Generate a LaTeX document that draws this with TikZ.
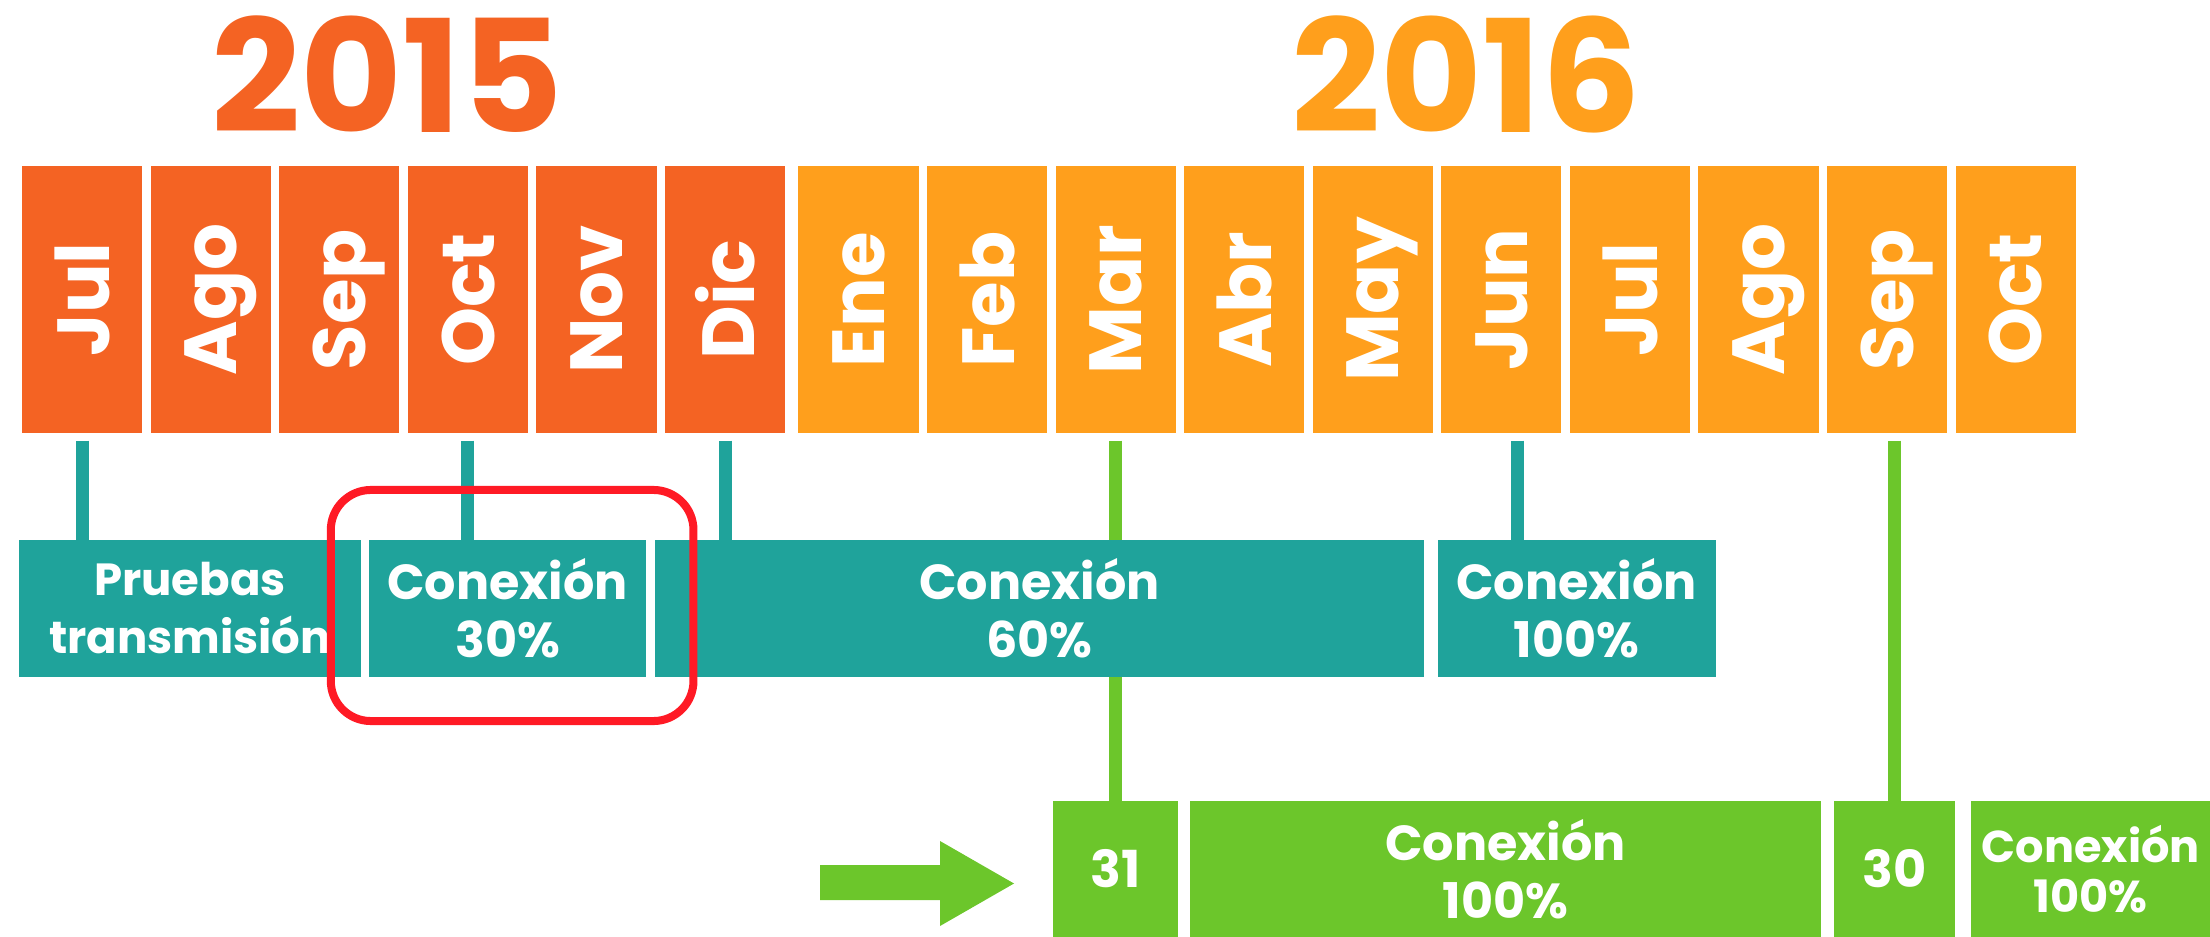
\documentclass[tikz,border=0pt]{standalone}
\usepackage{fontspec}
\setmainfont{Poppins}
\usepackage{graphicx}
\usetikzlibrary{positioning}
\definecolor{orange15}{HTML}{F46323}
\definecolor{orange16}{HTML}{FF9F1C}
\definecolor{teal1}{HTML}{1FA39B}
\definecolor{green1}{HTML}{6CC62B}
\definecolor{red1}{HTML}{FF1A25}
\pgfdeclarelayer{background}
\pgfsetlayers{background,main}
\newcommand{\vmonth}[1]{\rotatebox{90}{\raisebox{0pt}[\height][0pt]{#1}}}
\tikzset{
  month box/.style={
    fill=#1,
    minimum width=1.2cm,
    minimum height=2.66cm,
    inner sep=0pt,
    outer sep=0pt,
    text=white,
    font=\fontsize{21}{21}\selectfont\bfseries,
  },
  phase box/.style={
    fill=teal1,
    minimum width={#1},
    minimum height=1.37cm,
    inner sep=0pt,
    outer sep=0pt,
    text=white,
    align=center,
    font=\fontsize{14}{16.5}\selectfont\bfseries,
  },
  done box/.style={
    fill=green1,
    minimum width={#1},
    minimum height=1.36cm,
    inner sep=0pt,
    outer sep=0pt,
    text=white,
    align=center,
    font=\fontsize{14}{16.5}\selectfont\bfseries,
  },
  year label/.style={
    text=#1,
    inner sep=0pt,
    font=\fontsize{44.5}{44.5}\selectfont\bfseries,
  },
  link/.style={
    draw=#1,
    line width=0.13cm,
    shorten <=0.08cm,
  },
  highlight/.style={
    draw=red1,
    line width=0.08cm,
    rounded corners=0.4cm,
  }
}

\begin{document}
\begin{tikzpicture}[x=0.01cm, y=-0.01cm, node distance=0.085cm]
    \useasboundingbox (0,0) rectangle (2210,937);

    % years
    \node [year label=orange15] (y2015) at (387.5,74) {2015};
    \node [year label=orange16] (y2016) at (1466,74) {2016};

    % months 2015
    \node [month box=orange15] (jul15) at (82.2,299.5) {\vmonth{Jul}};
    \node [month box=orange15, right=of jul15] (ago15) {\vmonth{Ago}};
    \node [month box=orange15, right=of ago15] (sep15) {\vmonth{Sep}};
    \node [month box=orange15, right=of sep15] (oct15) {\vmonth{Oct}};
    \node [month box=orange15, right=of oct15] (nov15) {\vmonth{Nov}};
    \node [month box=orange15, right=of nov15] (dic15) {\vmonth{Dic}};

    % months 2016
    \node [month box=orange16, right=0.133cm of dic15] (ene16) {\vmonth{Ene}};
    \node [month box=orange16, right=of ene16] (feb16) {\vmonth{Feb}};
    \node [month box=orange16, right=of feb16] (mar16) {\vmonth{Mar}};
    \node [month box=orange16, right=of mar16] (abr16) {\vmonth{Abr}};
    \node [month box=orange16, right=of abr16] (may16) {\vmonth{May}};
    \node [month box=orange16, right=of may16] (jun16) {\vmonth{Jun}};
    \node [month box=orange16, right=of jun16] (jul16) {\vmonth{Jul}};
    \node [month box=orange16, right=of jul16] (ago16) {\vmonth{Ago}};
    \node [month box=orange16, right=of ago16] (sep16) {\vmonth{Sep}};
    \node [month box=orange16, right=of sep16] (oct16) {\vmonth{Oct}};

    % phases
    \node [phase box=3.42cm, font=\fontsize{12.8}{16.5}\selectfont\bfseries] (pruebas) at (190,608.5) {Pruebas\\transmisión};
    \node [phase box=2.775cm, right=0.077cm of pruebas] (c30) {Conexión\\30\%};
    \node [phase box=7.685cm, right=0.087cm of c30] (c60) {Conexión\\60\%};
    \node [phase box=2.775cm, right=0.137cm of c60] (c100) {Conexión\\100\%};

    % done
    \node [done box=1.254cm, font=\fontsize{14.5}{16.5}\selectfont\bfseries] (d31) at (1115.3,869) {31};
    \node [done box=6.3cm, right=0.123cm of d31] (d100a) {Conexión\\100\%};
    \node [done box=1.207cm, right=0.136cm of d100a, font=\fontsize{14.5}{16.5}\selectfont\bfseries] (d30) {30};
    \node [done box=2.4cm, right=0.155cm of d30, font=\fontsize{12.7}{14.4}\selectfont\bfseries] (d100b) {Conexión\\100\%};

    \begin{pgfonlayer}{background}
    \draw [link=teal1] (jul15.south) -- (jul15.south |- pruebas.north);
    \draw [link=teal1] (oct15.south) -- (oct15.south |- c30.north);
    \draw [link=teal1] (dic15.south) -- (dic15.south |- c60.north);
    \draw [link=teal1] ([xshift=0.165cm]jun16.south) -- ([xshift=0.165cm]jun16.south |- c100.north);
    \draw [link=green1] (mar16.south -| d31) -- (d31.north);
    \draw [link=green1] (sep16.south -| d30) -- (d30.north);
    \end{pgfonlayer}

    \fill [green1] (820,865) -- (940,865) -- (940,841) -- (1014,883.5) -- (940,926) -- (940,900) -- (820,900) -- cycle;

    \draw [highlight] ([shift={(-38,-50)}]c30.north west) rectangle ([shift={(47,44)}]c30.south east);
\end{tikzpicture}
\end{document}
